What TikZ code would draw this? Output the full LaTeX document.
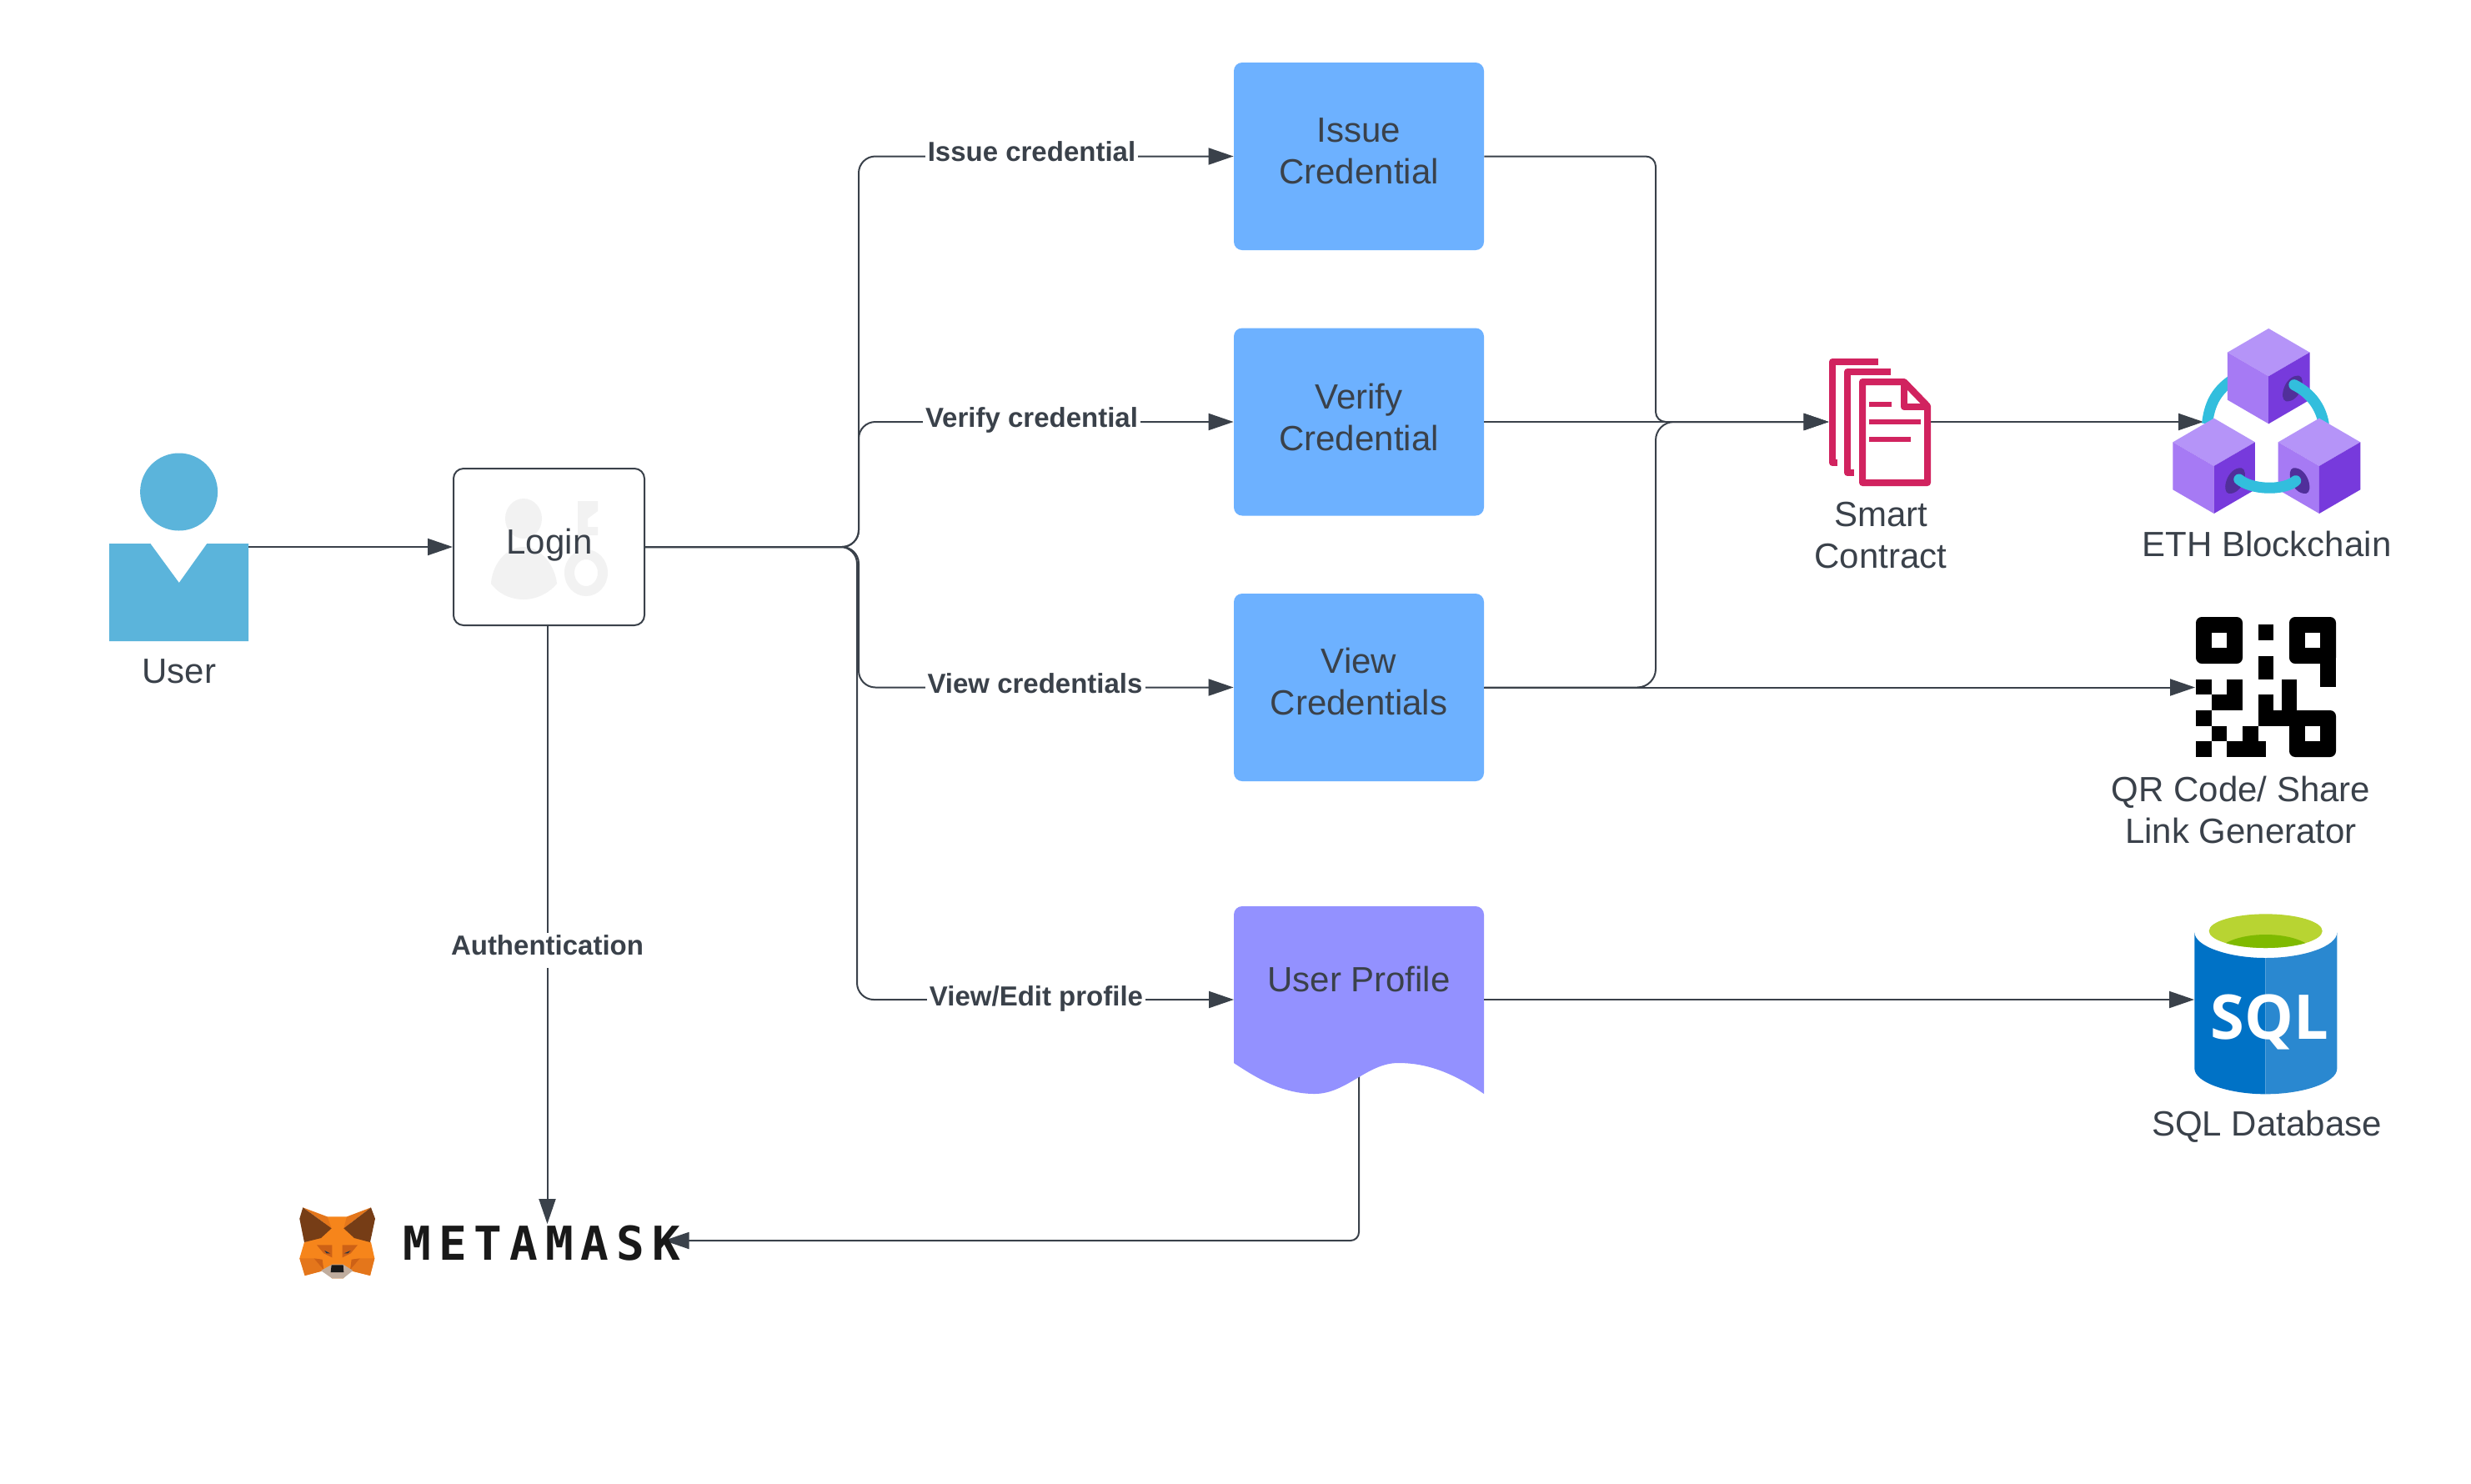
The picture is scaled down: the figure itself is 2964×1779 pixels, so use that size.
\documentclass[tikz,border=0pt]{standalone}
\usepackage{fontspec}
\setmainfont{Liberation Sans}
\newfontfamily\mmfont[LetterSpace=16]{DejaVu Sans Mono}
\newfontfamily\sqlfont{Open Sans}
\usetikzlibrary{arrows.meta,backgrounds}
\definecolor{ink}{HTML}{3A414A}
\definecolor{bluebox}{HTML}{6DB1FF}
\definecolor{purplebox}{HTML}{9391FF}
\definecolor{userblue}{HTML}{5BB4DB}
\definecolor{iconback}{HTML}{F2F2F2}
\definecolor{pinkdoc}{HTML}{D1235F}
\definecolor{cubetopc}{HTML}{B594F8}
\definecolor{cubeleftc}{HTML}{A67AF4}
\definecolor{cuberightc}{HTML}{773ADC}
\definecolor{holec}{HTML}{512F9B}
\definecolor{ringc}{HTML}{32BEDD}
\definecolor{foxo}{HTML}{F6851B}
\definecolor{foxd}{HTML}{E4761B}
\definecolor{foxe}{HTML}{CD6116}
\definecolor{foxb}{HTML}{763D16}
\definecolor{foxeye}{HTML}{233447}
\definecolor{foxsnout}{HTML}{C0AD9E}
\definecolor{sqlleft}{HTML}{0072C6}
\definecolor{sqlright}{HTML}{2A88D0}
\definecolor{sqlgreen}{HTML}{B8D432}
\definecolor{sqlgreend}{HTML}{7FBA00}
\tikzset{
  conn/.style={draw=ink,line width=1pt,rounded corners=10pt},
  arrowed/.style={conn,-{Triangle[length=15pt,width=10pt,fill=ink]}},
  txt/.style={text=ink,font=\fontsize{21}{25}\selectfont,align=center,inner sep=0pt},
  edgelbl/.style={anchor=base,fill=white,text=ink,font=\fontsize{16.5}{20}\selectfont\bfseries,inner xsep=1.5pt,inner ysep=1pt},
  boxn/.style={fill=bluebox,rounded corners=5pt,minimum width=150pt,minimum height=112.5pt,inner sep=0pt},
  anchorbox/.style={inner sep=0pt,outer sep=0pt},
  docline/.style={draw=pinkdoc,line width=4pt,line join=round},
}
\newcommand\ethcube[2]{\begin{scope}[shift={(#1,#2)}]
  \fill[cubetopc] (0,0)--(103,86)--(0,172)--(-103,86)--cycle;
  \fill[cubeleftc] (-103,86)--(0,172)--(0,343)--(-103,257)--cycle;
  \fill[cuberightc] (103,86)--(0,172)--(0,343)--(103,257)--cycle;
\end{scope}}
\newcommand\ethhole[3]{\fill[holec] ({#1+#3*16},{#2-46}) .. controls ({#1-#3*20},{#2-50}) and ({#1-#3*36},{#2+40}) .. ({#1-#3*16},{#2+46}) .. controls ({#1+#3*20},{#2+50}) and ({#1+#3*36},{#2-40}) .. cycle;}
\begin{document}
\begin{tikzpicture}[x=.5pt,y=-.5pt]
\useasboundingbox (0,0) rectangle (2964,1779);
% anchor nodes for pictured items
\node[anchorbox,minimum width=83.5pt,minimum height=58.5pt] (user) at (214.5,656) {};
\node[draw=ink,line width=1pt,rounded corners=6pt,minimum width=114.5pt,minimum height=94pt,inner sep=0pt] (login) at (658.5,656) {};
\node[boxn] (issue) at (1630,187.5) {};
\node[boxn] (verify) at (1630,506) {};
\node[boxn] (view) at (1630,824.5) {};
\node[txt] (issuetext) at (1630,181.5) {Issue\\Credential};
\node[txt] (verifytext) at (1630,500) {Verify\\Credential};
\node[txt] (viewtext) at (1630,817) {View\\Credentials};
\node[anchorbox,minimum width=150pt,minimum height=112.5pt] (profile) at (1630,1199) {};
\node[anchorbox,minimum width=59.5pt,minimum height=75pt] (sc) at (2253,506) {};
\node[anchorbox,minimum width=76pt,minimum height=85pt] (eth) at (2719,506) {};
\node[anchorbox,minimum width=85pt,minimum height=84pt] (qr) at (2718,824.5) {};
\node[anchorbox,minimum width=85.5pt,minimum height=85pt] (sql) at (2717.5,1199) {};
\node[anchorbox,minimum width=140pt,minimum height=20pt] (mm) at (656.5,1488) {};
\coordinate (busa) at (1030,400);
\coordinate (busv) at (1030,580);
\coordinate (busw) at (1030,740);
\coordinate (busb) at (1028,900);
\coordinate (busc) at (1986,300);
\coordinate (busd) at (1986,700);
% background layer
\begin{pgfonlayer}{background}
\fill[white] (0,0) rectangle (2964,1779);
% login icon
\fill[iconback] (628,622) ellipse [x radius=22,y radius=24];
\fill[iconback] (589,700) .. controls (590,680) and (605,656) .. (628,656) .. controls (650,656) and (666,680) .. (668,700) .. controls (660,710) and (645,719) .. (628,719) .. controls (610,719) and (596,710) .. cycle;
\fill[iconback,even odd rule] (703,687) ellipse [x radius=26,y radius=28] (703,687) ellipse [x radius=14,y radius=16];
\fill[iconback] (693,601)--(717,601)--(717,613)--(705,622)--(705,632)--(717,632)--(717,642)--(705,642)--(705,660)--(693,660)--cycle;
% connector behind the document shape
\draw[arrowed,rounded corners=5pt] (profile.center) |- (mm.east);
\fill[purplebox] (1480,1275) [rounded corners=5pt] -- (1480,1087) -- (1780,1087) [sharp corners] -- (1780,1312) .. controls (1740,1285) and (1710,1275) .. (1677,1275) .. controls (1640,1275) and (1615,1312) .. (1577,1312) .. controls (1540,1312) and (1510,1295) .. (1480,1275) -- cycle;
\end{pgfonlayer}
% user icon
\fill[userblue] (214.6,590) circle [radius=46.5];
\fill[userblue] (131,652)--(180.4,652)--(214.8,699)--(248.3,652)--(298,652)--(298,769)--(131,769)--cycle;
\node[txt,anchor=base] (usertext) at (215,819) {User};
\node[txt,anchor=base] (logintext) at (659,664) {Login};
\node[txt,anchor=base] (ptext) at (1630,1189) {User Profile};
% connectors
\draw[arrowed] (user.east) -- (login.west);
\draw[arrowed] (login.east) -| (busa) |- (issue.west);
\draw[arrowed] (login.east) -| (busv) |- (verify.west);
\draw[arrowed] (login.east) -| (busw) |- (view.west);
\draw[arrowed] (login.east) -| (busb) |- (profile.west);
\draw[arrowed] (mm.north |- login.south) -- (mm.north);
\draw[arrowed,rounded corners=6pt] (issue.east) -| (busc) |- (sc.west);
\draw[arrowed] (verify.east) -- (sc.west);
\draw[arrowed,rounded corners=11pt] (view.east) -| (busd) |- (sc.west);
\draw[arrowed] (view.east) -- (qr.west);
\draw[arrowed] (profile.east) -- (sql.west);
\draw[arrowed] (sc.east) -- (eth.west);
% edge labels
\node[edgelbl] (l1) at (1237.5,193.5) {Issue credential};
\node[edgelbl] (l2) at (1237.5,512.5) {Verify credential};
\node[edgelbl] (l3) at (1241.5,831) {View credentials};
\node[edgelbl] (l4) at (1243,1206) {View/Edit profile};
\node[edgelbl,text depth=7pt] (l5) at (656.5,1145) {Authentication};
% smart contract icon
\draw[docline] (2253,434) -- (2198,434) -- (2198,555) -- (2204,555);
\draw[docline] (2268,446) -- (2216,446) -- (2216,567) -- (2224,567);
\draw[docline] (2234,458) -- (2284,458) -- (2312,487) -- (2312,579) -- (2234,579) -- cycle;
\draw[docline] (2284,458) -- (2284,488) -- (2312,488);
\draw[docline,line width=3.4pt] (2242,485) -- (2269,485);
\draw[docline,line width=3.4pt] (2242,506) -- (2304,506);
\draw[docline,line width=3.4pt] (2242,527) -- (2292,527);
\node[txt] (sctext) at (2256,642.5) {Smart\\Contract};
% eth icon
\begin{scope}[shift={(2150,380)},x=.5pt/2.09,y=-.5pt/3]
\draw[ringc,line width=6.5pt] (1100,230) .. controls (1060,270) and (1045,320) .. (1040,385);
\ethcube{1194}{42}
\ethhole{1254}{258}{1}
\draw[ringc,line width=6.5pt,line cap=round] (1258,245) .. controls (1300,275) and (1325,325) .. (1332,385);
\ethcube{1057}{365}
\ethcube{1321}{365}
\ethhole{1110}{590}{1}
\ethhole{1272}{590}{-1}
\draw[ringc,line width=6.5pt,line cap=round] (1120,585) .. controls (1150,622) and (1230,628) .. (1262,590);
\end{scope}
\node[txt,anchor=base] (ethtext) at (2719,667) {ETH Blockchain};
% QR icon
\begin{scope}[shift={(2600,720)},x=.5pt/3,y=-.5pt/3]
\fill[black,rounded corners=3.5pt] (102,60) rectangle (270,228);
\fill[white] (158,116) rectangle (214,172);
\fill[black,rounded corners=3.5pt] (438,60) rectangle (606,228);
\fill[black] (550,170) rectangle (606,312);
\fill[white] (494,116) rectangle (550,172);
\fill[black,rounded corners=3.5pt] (438,396) rectangle (606,564);
\fill[white] (494,452) rectangle (550,508);
\fill[black] (326,88) rectangle (382,144);
\fill[black] (326,200) rectangle (382,284);
\fill[black] (102,284) rectangle (158,340);
\fill[black] (214,284) rectangle (270,396);
\fill[black] (158,340) rectangle (270,396);
\fill[black] (102,396) rectangle (158,452);
\fill[black] (158,452) rectangle (214,508);
\fill[black] (102,508) rectangle (158,564);
\fill[black] (214,508) rectangle (354,564);
\fill[black] (270,452) rectangle (326,508);
\fill[black] (326,340) rectangle (382,452);
\fill[black] (410,284) rectangle (466,452);
\fill[black] (382,396) rectangle (470,452);
\end{scope}
\node[txt] (qrtext) at (2688,971) {QR Code/ Share\\Link Generator};
% SQL icon
\begin{scope}[shift={(2600,1080)},x=.5pt/3,y=-.5pt/3]
\fill[sqlleft] (97,115) .. controls (97,165) and (220,207) .. (352,207) -- (352,697) .. controls (220,697) and (97,655) .. (97,605) -- cycle;
\fill[sqlright] (352,207) .. controls (490,207) and (610,165) .. (610,115) -- (610,605) .. controls (610,655) and (490,697) .. (352,697) -- cycle;
\fill[sqlgreen] (353,110) ellipse [x radius=204,y radius=61];
\begin{scope}
\clip (353,110) ellipse [x radius=204,y radius=61];
\fill[sqlgreend] (353,195) ellipse [x radius=175,y radius=72];
\end{scope}
\node[anchor=base,text=white,inner sep=0pt,font=\fontsize{37}{40}\selectfont\sqlfont\bfseries] (sqlword) at (367,500) {SQL};
\end{scope}
\node[txt,anchor=base] (sqltext) at (2719,1362) {SQL Database};
% metamask
\node[anchor=base west,inner sep=0pt,text=black!90,font=\fontsize{28}{34}\selectfont\mmfont\bfseries] (mmword) at (483,1511) {METAMASK};
\begin{scope}[shift={(330,1420)},x=.5pt/3,y=-.5pt/3]
\fill[foxo] (188,118)--(258,118)--(300,195)--(345,210)--(358,268)--(342,330)--(270,312)--(245,340)--(205,340)--(175,312)--(107,330)--(88,268)--(105,210)--(150,195)--cycle;
\fill[foxd] (100,85)--(188,118)--(203,160)--cycle;
\fill[foxd] (345,85)--(258,118)--(247,160)--cycle;
\fill[foxb] (100,85)--(203,160)--(165,195)--(105,210)--(88,125)--cycle;
\fill[foxb] (345,85)--(247,160)--(285,195)--(342,210)--(360,125)--cycle;
\fill[foxd] (88,268)--(140,268)--(175,312)--(107,330)--cycle;
\fill[foxd] (358,268)--(305,268)--(270,312)--(342,330)--cycle;
\fill[foxe] (150,220)--(205,220)--(205,265)--(175,250)--cycle;
\fill[foxe] (297,220)--(242,220)--(242,265)--(272,250)--cycle;
\fill[foxe] (140,268)--(175,310)--(170,272)--cycle;
\fill[foxe] (305,268)--(270,310)--(275,272)--cycle;
\fill[foxeye] (178,240)--(198,250)--(185,250)--cycle;
\fill[foxeye] (272,240)--(248,250)--(262,250)--cycle;
\fill[foxsnout] (165,312)--(205,290)--(245,290)--(280,312)--(245,340)--(205,340)--cycle;
\fill[black!90] (203,292)--(245,292)--(247,318)--(200,318)--cycle;
\end{scope}
\end{tikzpicture}
\end{document}
